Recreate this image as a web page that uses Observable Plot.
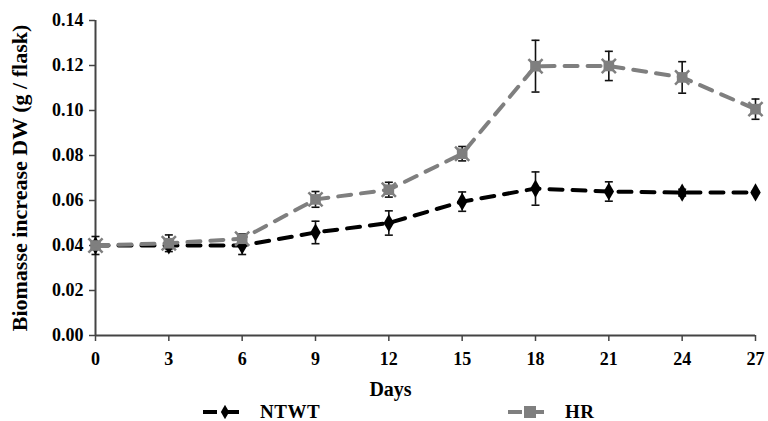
<!DOCTYPE html>
<html><head><meta charset="utf-8">
<script src="https://cdn.jsdelivr.net/npm/d3@7"></script>
<script src="https://cdn.jsdelivr.net/npm/@observablehq/plot@0.6"></script>
<style>
body{margin:0;background:#fff;}
#chart{width:768px;height:421px;position:relative;overflow:hidden;background:#fff}
#chart svg{display:block}
.legend{position:relative;height:19px;color:#000}
.item{position:absolute;top:0;display:flex;align-items:center;height:19px;font-weight:bold;font-size:19px;line-height:19px;letter-spacing:0.5px}
.item svg{margin-right:13px}
</style></head><body><div id="chart"></div>
<script>
const days=[0,3,6,9,12,15,18,21,24,27];
const seriesNames=["NTWT","HR"];
const ntwt=[0.040,0.040,0.040,0.0458,0.050,0.0595,0.0653,0.064,0.0635,0.0636];
const ntwtErr=[0.004,0.0015,0.004,0.005,0.0054,0.0043,0.0074,0.0043,0.0015,0.0005];
const hr=[0.040,0.041,0.043,0.0605,0.0648,0.0808,0.1197,0.1198,0.1147,0.1006];
const hrErr=[0.0008,0.0037,0.0022,0.0035,0.0033,0.0032,0.0115,0.0065,0.007,0.0045];
const yTicks=[0,0.02,0.04,0.06,0.08,0.10,0.12,0.14];
const xTicks=[0,3,6,9,12,15,18,21,24,27];
const yLabel="Biomasse increase DW (g / flask)";
const xLabel="Days";

const FONT="Liberation Serif, Tinos, Times New Roman, DejaVu Serif, serif";
const colors={NTWT:"#000000",HR:"#7f7f7f"};
const rows=[];
days.forEach((d,i)=>{
  rows.push({series:"NTWT",day:d,value:ntwt[i],err:ntwtErr[i]});
  rows.push({series:"HR",day:d,value:hr[i],err:hrErr[i]});
});
const ntRows=rows.filter(r=>r.series==="NTWT");
const hrRows=rows.filter(r=>r.series==="HR");
const capSymbol={draw(ctx,size){const w=Math.sqrt(size/Math.PI);ctx.moveTo(-w,0);ctx.lineTo(w,0);}};

const chart=Plot.plot({
  width:768,height:402,
  marginLeft:95,marginRight:13,marginTop:20,marginBottom:67,
  style:{fontFamily:FONT,fontWeight:"bold",fontSize:"18px",color:"#000",background:"#fff"},
  x:{domain:[0,27],ticks:xTicks},
  y:{domain:[0,0.14],ticks:yTicks},
  marks:[
    Plot.ruleX([0],{y1:0,y2:0.14,stroke:"#444",strokeWidth:2}),
    Plot.ruleY([0],{x1:0,x2:27,stroke:"#444",strokeWidth:2}),
    Plot.axisY({ticks:yTicks,tickFormat:d3.format(".2f"),tickSize:6,tickPadding:6,stroke:"#444",strokeWidth:1.5,label:null,fill:"#000",fontSize:18,fontFamily:FONT,letterSpacing:"1.5px"}),
    Plot.axisX({ticks:xTicks,tickSize:6,tickPadding:11,stroke:"#444",strokeWidth:1.5,label:null,fill:"#000",fontSize:18,fontFamily:FONT,letterSpacing:"0.8px"}),
    Plot.text([yLabel],{frameAnchor:"left",rotate:-90,dx:-76,textAnchor:"middle",lineAnchor:"middle",fontSize:22,fontWeight:"bold",fontFamily:FONT,fill:"#000",letterSpacing:"0.6px"}),
    Plot.text([xLabel],{frameAnchor:"bottom",dx:-35,dy:54,textAnchor:"middle",lineAnchor:"middle",fontSize:20,fontWeight:"bold",fontFamily:FONT,fill:"#000",letterSpacing:"1px"}),
    // error bars
    Plot.ruleX(rows,{x:"day",y1:d=>d.value-d.err,y2:d=>d.value+d.err,stroke:"#111",strokeWidth:1.6}),
    Plot.dot(rows,{x:"day",y:d=>d.value-d.err,symbol:capSymbol,r:4,stroke:"#111",strokeWidth:1.6,fill:"none"}),
    Plot.dot(rows,{x:"day",y:d=>d.value+d.err,symbol:capSymbol,r:4,stroke:"#111",strokeWidth:1.6,fill:"none"}),
    // lines
    Plot.line(ntRows,{x:"day",y:"value",stroke:colors.NTWT,strokeWidth:4,strokeDasharray:"13,10"}),
    Plot.dot(ntRows,{x:"day",y:"value",symbol:"diamond",r:5.5,fill:colors.NTWT,stroke:"none"}),
    Plot.line(hrRows,{x:"day",y:"value",stroke:colors.HR,strokeWidth:4,strokeDasharray:"13,10"}),
    Plot.dot(hrRows,{x:"day",y:"value",symbol:"square",r:6,fill:colors.HR,stroke:"none"}),
    Plot.dot(hrRows,{x:"day",y:"value",symbol:"times",r:6.5,stroke:colors.HR,strokeWidth:2.5,fill:"none"})
  ]
});
const root=document.getElementById("chart");
root.appendChild(chart);

// legend below
const legend=document.createElement("div");
legend.className="legend";
const legendPos={NTWT:203,HR:508};
seriesNames.forEach(name=>{
  const it=document.createElement("div");
  it.className="item";
  it.style.fontFamily=FONT;
  it.style.left=legendPos[name]+"px";
  const sw=d3.create("svg").attr("width",44).attr("height",14);
  sw.append("line").attr("x1",0).attr("x2",44).attr("y1",7).attr("y2",7).attr("stroke",colors[name]).attr("stroke-width",4).attr("stroke-dasharray","14,8");
  if(name==="NTWT"){
    sw.append("path").attr("d",d3.symbol(d3.symbolDiamond,60)()).attr("transform","translate(22,7)").attr("fill",colors[name]);
  }else{
    sw.append("rect").attr("x",16).attr("y",1).attr("width",12).attr("height",12).attr("fill",colors[name]);
  }
  it.appendChild(sw.node());
  const t=document.createElement("span");t.textContent=name;it.appendChild(t);
  legend.appendChild(it);
});
root.appendChild(legend);
</script></body></html>
